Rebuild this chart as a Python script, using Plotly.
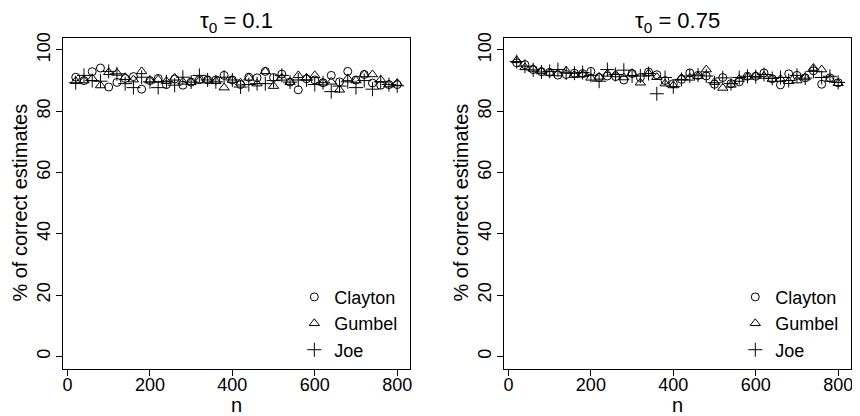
import plotly.graph_objects as go

n_values = [20, 40, 60, 80, 100, 120, 140, 160, 180, 200,
            220, 240, 260, 280, 300, 320, 340, 360, 380, 400,
            420, 440, 460, 480, 500, 520, 540, 560, 580, 600,
            620, 640, 660, 680, 700, 720, 740, 760, 780, 800]

# tau0 = 0.1 panel
clayton_01 = [91.1, 90.0, 92.9, 94.1, 87.9, 89.4, 90.7, 91.3, 87.2, 90.0,
              90.7, 88.7, 90.5, 88.5, 89.5, 90.3, 90.2, 90.2, 91.7, 90.2,
              88.7, 91.1, 90.9, 93.0, 91.0, 92.1, 89.5, 87.0, 90.6, 90.2,
              89.3, 91.7, 89.6, 93.0, 90.2, 92.0, 89.2, 88.5, 88.7, 88.7]
gumbel_01 = [89.8, 90.0, 90.7, 88.4, 92.7, 92.5, 91.1, 90.3, 93.0, 90.0,
             90.3, 89.8, 90.9, 89.6, 89.5, 90.0, 90.2, 89.8, 87.7, 90.2,
             89.3, 90.9, 89.0, 93.0, 88.2, 90.9, 89.5, 91.7, 90.9, 91.7,
             89.3, 89.6, 87.0, 90.7, 90.0, 92.0, 92.0, 90.3, 88.7, 89.2]
joe_01 = [89.3, 91.7, 90.0, 89.8, 93.0, 92.2, 89.0, 87.7, 91.1, 89.6,
          87.7, 89.6, 88.5, 91.1, 89.5, 91.7, 90.2, 89.6, 91.1, 90.2,
          87.9, 88.7, 89.0, 89.0, 90.0, 91.7, 89.5, 90.2, 90.2, 88.7,
          89.3, 86.4, 88.2, 89.6, 87.7, 90.0, 87.2, 89.6, 88.7, 88.3]

# tau0 = 0.75 panel
clayton_075 = [95.8, 95.2, 93.6, 92.9, 92.7, 91.8, 92.0, 92.4, 92.3, 93.0,
               91.0, 91.5, 91.3, 90.2, 92.3, 91.0, 92.8, 91.9, 90.0, 89.0,
               90.4, 92.5, 91.7, 91.5, 88.8, 91.0, 89.0, 89.6, 91.4, 91.4,
               92.5, 90.6, 88.6, 92.2, 91.7, 90.9, 93.2, 88.8, 90.9, 89.3]
gumbel_075 = [96.6, 94.3, 93.8, 93.0, 92.5, 92.3, 93.2, 91.8, 92.0, 90.9,
              91.2, 92.2, 92.0, 91.0, 92.4, 89.3, 92.3, 91.1, 89.0, 88.4,
              90.9, 90.9, 91.4, 93.6, 89.5, 87.6, 88.6, 90.5, 91.2, 91.6,
              91.5, 90.5, 90.5, 89.8, 90.0, 91.0, 94.1, 93.6, 90.5, 89.1]
joe_075 = [96.2, 94.7, 93.5, 92.8, 93.0, 93.6, 92.5, 92.4, 92.6, 91.7,
           89.8, 93.6, 92.0, 93.4, 91.5, 91.5, 92.3, 85.7, 91.0, 88.0,
           90.4, 91.5, 91.8, 91.5, 89.3, 90.9, 89.0, 91.0, 91.4, 91.3,
           92.0, 90.7, 91.0, 90.0, 91.7, 90.8, 93.0, 91.0, 91.4, 89.4]

series_names = ["Clayton", "Gumbel", "Joe"]
panel_titles = ["τ<sub>0</sub> = 0.1", "τ<sub>0</sub> = 0.75"]
x_ticks = [0, 200, 400, 600, 800]
y_ticks = [0, 20, 40, 60, 80, 100]

# the page body has an 8px margin: the figure div starts at (8, 8)
OFF = 8
W, H = 860 - OFF, 416 - OFF
FONT = "Liberation Sans, Arial, Helvetica, sans-serif"
symbols = {"Clayton": "circle-open", "Gumbel": "triangle-up-open", "Joe": "cross-thin-open"}
sizes = {"Clayton": 8, "Gumbel": 9, "Joe": 10}

fig = go.Figure()

panels = [
    ("x", "y", "legend", [clayton_01, gumbel_01, joe_01]),
    ("x2", "y2", "legend2", [clayton_075, gumbel_075, joe_075]),
]
for xa, ya, leg, data in panels:
    for name, vals in zip(series_names, data):
        fig.add_trace(go.Scatter(
            x=n_values, y=vals, mode="markers", name=name,
            xaxis=xa, yaxis=ya, legend=leg,
            marker=dict(symbol=symbols[name], size=sizes[name], color="black",
                        line=dict(color="black", width=1)),
            showlegend=True,
        ))

# positions in screen pixels of the 860x416 window
box_left = [63, 505]
box_right = [411, 853]
box_top, box_bottom = 33, 368

def px(xp):
    return (xp - OFF) / W

def py(yp):
    return 1 - (yp - OFF) / H

axis_common = dict(
    showline=True, mirror=True, linecolor="black", linewidth=1,
    ticks="outside", ticklen=6, tickwidth=1, tickcolor="black",
    showgrid=False, zeroline=False,
    tickfont=dict(family=FONT, size=18, color="black"),
)

layout = dict(
    width=W, height=H,
    margin=dict(l=0, r=0, t=0, b=0),
    paper_bgcolor="white", plot_bgcolor="white",
    font=dict(family=FONT, size=18, color="black"),
    annotations=[],
)

for i, (xa, ya) in enumerate([("xaxis", "yaxis"), ("xaxis2", "yaxis2")]):
    layout[xa] = dict(axis_common, domain=[px(box_left[i]), px(box_right[i])],
                      range=[-11.2, 831.2], tickvals=x_ticks,
                      ticklabelstandoff=-6,
                      anchor="y" if i == 0 else "y2")
    layout[ya] = dict(axis_common, domain=[py(box_bottom), py(box_top)],
                      range=[-4, 104], tickvals=y_ticks, tickangle=-90,
                      ticklabelstandoff=-1,
                      anchor="x" if i == 0 else "x2")
    cx = (box_left[i] + box_right[i]) / 2
    layout["annotations"].append(dict(
        text=panel_titles[i], xref="paper", yref="paper",
        x=px(cx), y=py(17), xanchor="center", yanchor="middle",
        showarrow=False, font=dict(family=FONT, size=22, color="black")))
    layout["annotations"].append(dict(
        text="n", xref="paper", yref="paper",
        x=px(cx), y=py(405), xanchor="center", yanchor="middle",
        showarrow=False, font=dict(family=FONT, size=20, color="black")))
    layout["annotations"].append(dict(
        text="% of correct estimates", xref="paper", yref="paper",
        x=px(box_left[i] - 43), y=py(200),
        xanchor="center", yanchor="middle", textangle=-90,
        showarrow=False, font=dict(family=FONT, size=20, color="black")))

legend_common = dict(
    bgcolor="rgba(0,0,0,0)", borderwidth=0,
    font=dict(family=FONT, size=18, color="black"),
    xanchor="left", yanchor="top", tracegroupgap=0,
)
layout["legend"] = dict(legend_common, x=px(295), y=py(277))
layout["legend2"] = dict(legend_common, x=px(737), y=py(277))

fig.update_layout(**layout)
fig.write_html("out.html")
